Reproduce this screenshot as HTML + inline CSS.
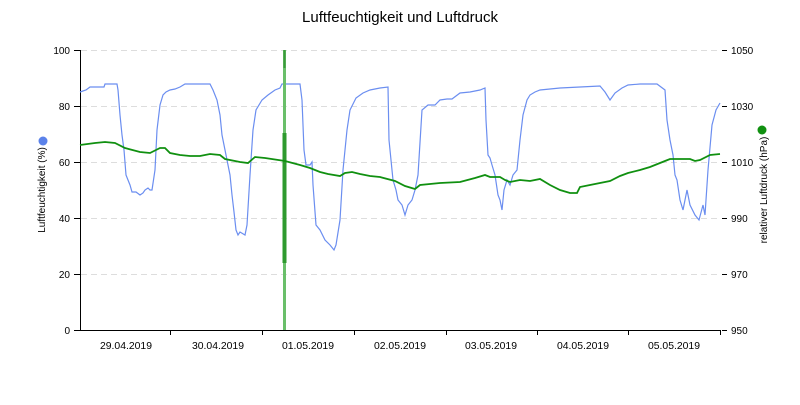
<!DOCTYPE html>
<html><head><meta charset="utf-8"><style>body{margin:0;background:#fff}</style></head><body>
<svg width="800" height="400" xmlns="http://www.w3.org/2000/svg" font-family="Liberation Sans, DejaVu Sans, sans-serif">
<rect width="800" height="400" fill="#fff"/>
<text x="400" y="22" text-anchor="middle" font-size="15" fill="#000">Luftfeuchtigkeit und Luftdruck</text>
<g stroke="#ddd" stroke-dasharray="6,4" stroke-width="1">
<line x1="81" y1="50.5" x2="720" y2="50.5"/><line x1="81" y1="106.5" x2="720" y2="106.5"/><line x1="81" y1="162.5" x2="720" y2="162.5"/><line x1="81" y1="218.5" x2="720" y2="218.5"/><line x1="81" y1="274.5" x2="720" y2="274.5"/>
</g>
<g stroke="#000" stroke-width="1">
<line x1="80.5" y1="50" x2="80.5" y2="330"/>
<line x1="80" y1="330.5" x2="720" y2="330.5"/>
<line x1="74" y1="50.5" x2="80" y2="50.5"/><line x1="74" y1="106.5" x2="80" y2="106.5"/><line x1="74" y1="162.5" x2="80" y2="162.5"/><line x1="74" y1="218.5" x2="80" y2="218.5"/><line x1="74" y1="274.5" x2="80" y2="274.5"/><line x1="74" y1="330.5" x2="80" y2="330.5"/>
<line x1="722" y1="50.5" x2="727" y2="50.5"/><line x1="722" y1="106.5" x2="727" y2="106.5"/><line x1="722" y1="162.5" x2="727" y2="162.5"/><line x1="722" y1="218.5" x2="727" y2="218.5"/><line x1="722" y1="274.5" x2="727" y2="274.5"/><line x1="722" y1="330.5" x2="727" y2="330.5"/>
<line x1="170.5" y1="330" x2="170.5" y2="335"/><line x1="262.5" y1="330" x2="262.5" y2="335"/><line x1="354.5" y1="330" x2="354.5" y2="335"/><line x1="446.5" y1="330" x2="446.5" y2="335"/><line x1="537.5" y1="330" x2="537.5" y2="335"/><line x1="628.5" y1="330" x2="628.5" y2="335"/><line x1="720.5" y1="330" x2="720.5" y2="335"/>
</g>
<g font-size="10" fill="#000" text-anchor="end">
<text x="70" y="54">100</text><text x="70" y="110">80</text><text x="70" y="166">60</text><text x="70" y="222">40</text><text x="70" y="278">20</text><text x="70" y="334">0</text>
</g>
<g font-size="10" fill="#000">
<text x="731" y="54">1050</text><text x="731" y="110">1030</text><text x="731" y="166">1010</text><text x="731" y="222">990</text><text x="731" y="278">970</text><text x="731" y="334">950</text>
</g>
<g font-size="10.4" fill="#000" text-anchor="middle">
<text x="126" y="349">29.04.2019</text><text x="218" y="349">30.04.2019</text><text x="308" y="349">01.05.2019</text><text x="400" y="349">02.05.2019</text><text x="491" y="349">03.05.2019</text><text x="583" y="349">04.05.2019</text><text x="674" y="349">05.05.2019</text>
</g>
<text transform="translate(45,190) rotate(-90)" font-size="10" text-anchor="middle">Luftfeuchtigkeit (%)</text>
<circle cx="43" cy="141" r="4.5" fill="#5b82ea"/>
<text transform="translate(767,190) rotate(-90)" font-size="10" text-anchor="middle">relativer Luftdruck (hPa)</text>
<circle cx="762" cy="130" r="4.5" fill="#109010"/>
<polyline fill="none" stroke="#6b8ef0" stroke-width="1.2" points="80,92 86,90 90,87 104,87 105,84 117,84 118,90 120,115 122,135 124,150 126,175 128,180 130,185 132,192 136,192 140,195 143,193 145,190 148,188 150,190 152,190 155,170 157,130 160,105 163,95 166,92 170,90 175,89 180,87 185,84 210,84 213,90 217,100 220,115 222,135 226,155 230,175 232,195 234,212 236,230 238,235 240,232 245,235 247,225 250,175 253,130 256,110 262,100 268,95 275,90 280,88 282,84 300,84 302,100 304,150 306,165 310,165 312,162 313,185 316,225 320,230 325,240 330,245 334,250 336,245 340,220 343,170 347,130 350,110 356,98 363,93 370,90 380,88 388,87 389,140 393,180 396,190 398,200 402,205 405,215 408,205 412,200 415,190 418,175 422,110 428,105 435,105 440,100 447,99 452,99 460,93 470,92 480,90 485,88 486,120 488,155 490,158 492,165 495,175 498,195 500,200 502,210 504,190 507,180 510,185 513,175 517,170 520,140 523,115 527,100 530,95 535,92 540,90 560,88 580,87 600,86 605,92 610,100 615,93 622,88 628,85 640,84 657,84 665,90 667,120 670,140 673,155 675,175 677,180 680,200 683,210 687,190 690,205 695,215 699,220 703,205 705,215 708,170 712,125 716,110 720,103"/>
<line x1="284.5" y1="50" x2="284.5" y2="330" stroke="#6abf6a" stroke-width="3"/>
<line x1="284.5" y1="50" x2="284.5" y2="68" stroke="#3a9a3a" stroke-width="2"/>
<line x1="284.5" y1="133" x2="284.5" y2="263" stroke="#2e9a2e" stroke-width="4"/>
<polyline fill="none" stroke="#109010" stroke-width="1.8" points="80,145 95,143 105,142 115,143 125,148 140,152 150,153 160,148 165,148 170,153 180,155 190,156 200,156 210,154 220,155 225,159 240,162 248,163 255,157 265,158 285,161 300,165 310,168 320,172 328,174 340,176 345,173 352,172 360,174 370,176 380,177 395,181 405,186 415,189 420,185 440,183 460,182 475,178 485,175 490,177 500,177 505,180 510,182 520,180 530,181 540,179 550,185 560,190 570,193 577,193 580,187 590,185 600,183 610,181 620,176 628,173 640,170 650,167 660,163 665,161 670,159 680,159 690,159 695,161 700,160 710,155 720,154"/>
</svg>
</body></html>
